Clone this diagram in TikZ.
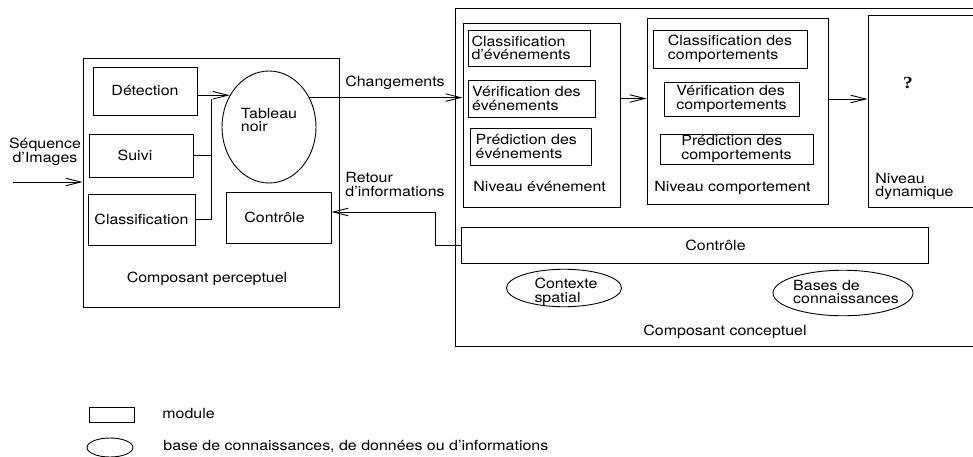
\documentclass[tikz,border=0pt]{standalone}
\usepackage{fontspec}
\setmainfont{TeX Gyre Heros}[FakeStretch=1.14]
\newfontfamily\qfont{Liberation Serif}[FakeStretch=1.14]
\usetikzlibrary{arrows.meta,shapes.geometric}
\begin{document}
\begin{tikzpicture}[x=1pt,y=-1pt, line width=0.9pt,
  every node/.style={font=\fontsize{14}{13.5}\selectfont, inner sep=0pt},
  box/.style={draw, rectangle, inner sep=0pt, align=center},
  oval/.style={draw, ellipse, inner sep=0pt, align=left},
  arr/.style={-{Straight Barb[length=15pt,width=7.5pt]}}]
\useasboundingbox (0,0) rectangle (973,457);

% perceptual component
\node[box, minimum width=256pt, minimum height=249pt] (P) at (211,182.5) {};
\node[box, minimum width=104pt, minimum height=48pt] (D) at (145,91) {Détection};
\node[box, minimum width=104pt, minimum height=43pt, label={[xshift=-6pt]center:Suivi}] (S) at (141,155.5) {};
\node[box, minimum width=107pt, minimum height=51pt] (C) at (141.5,219.5) {Classification};
\node[oval, minimum width=94pt, minimum height=112pt, label={[align=left, yshift=7pt]center:Tableau\\noir}] (T) at (269,127) {};
\node[box, minimum width=105pt, minimum height=51pt, label={[xshift=-4pt]center:Contrôle}] (Cp) at (278.5,217.5) {};
\node (Pl) at (207,279) {Composant perceptuel};
\node[align=center] (Seq) at (45,152) {Séquence\\d'Images};
\coordinate (in) at (13,182);
\draw[arr] (in) -- (in -| P.west);

\coordinate (j) at (211,99);
\draw[arr] (D.east |- T.141) -- (T.141);
\draw (S.east) -- (S.east -| j);
\draw (C.east) -| (j);

% conceptual component
\node[box, minimum width=519pt, minimum height=338pt] (K) at (714.5,177) {};
\node[box, minimum width=157pt, minimum height=184pt] (E) at (541.5,115) {};
\node[box, minimum height=36pt, text width=115pt, inner xsep=3.5pt, align=left] (CE) at (529,48) {Classification\\d'événements};
\node[box, minimum height=37pt, text width=119pt, inner xsep=4pt, align=left] (VE) at (531.5,98.5) {Vérification des\\événements};
\node[box, minimum height=37pt, text width=109.6pt, inner xsep=5.7pt, align=left] (PE) at (530.5,146.5) {Prédiction des\\événements};
\node[anchor=west] (El) at (473,187) {Niveau événement};

\node[box, minimum width=181pt, minimum height=186pt] (B) at (737.5,111) {};
\node[box, minimum width=154pt, minimum height=38pt, align=left] (CB) at (730,49) {Classification des\\comportements};
\node[box, minimum width=135pt, minimum height=34pt, align=left] (VB) at (731.5,99) {Vérification des\\comportements};
\node[box, minimum width=153pt, minimum height=30pt, align=left] (PB) at (736.5,149) {Prédiction des\\comportements};
\node[anchor=west] (Bl) at (654,188) {Niveau comportement};

\node[box, minimum width=106pt, minimum height=192pt] (N) at (921,111) {};
\node[font={\qfont\bfseries\fontsize{17}{17}\selectfont}] (Q) at (908,83) {?};
\node[align=left, anchor=west] (Nl) at (875,186.5) {Niveau\\dynamique};

\node[box, minimum width=467pt, minimum height=36pt, label={[xshift=21pt]center:Contrôle}] (Cc) at (694.5,245) {};
\node[oval, minimum width=115pt, minimum height=37.5pt, label={[align=left, yshift=-4pt, xshift=2pt]center:Contexte\\spatial}] (CS) at (564,288) {};
\node[oval, minimum width=140pt, minimum height=45.5pt, label={[align=left, yshift=1pt, xshift=3pt]center:Bases de\\connaissances}] (BC) at (843,293) {};
\node (Kl) at (725,332) {Composant conceptuel};

% connectors between components
\draw[arr] (T.36) -- (T.36 -| E.west);
\node (Ch) at (395,83) {Changements};
\draw[arr] (E.east |- VE) -- (B.west |- VE);
\draw[arr] (B.east |- VB) -- (N.west |- VB);
\coordinate (fb) at (435,212);
\draw[arr] (Cc.west) -| (fb) -- (fb -| Cp.east);
\node[align=left, anchor=west] (Ret) at (345,184.5) {Retour\\d'informations};

% legend
\node[box, minimum width=45pt, minimum height=15pt] (Lm) at (111.5,414.5) {};
\node[anchor=west] (Lmt) at (162,413) {module};
\node[oval, minimum width=46pt, minimum height=19pt] (Le) at (110,447.5) {};
\node[anchor=west] (Let) at (163,446) {base de connaissances, de données ou d'informations};
\end{tikzpicture}
\end{document}
